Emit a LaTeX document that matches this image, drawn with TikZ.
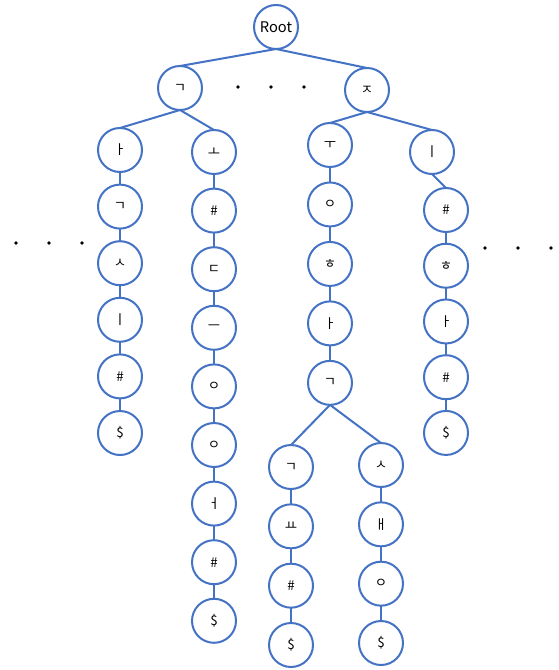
\documentclass[tikz,border=0pt]{standalone}
\usepackage{fontspec}
\setmainfont{Noto Sans CJK KR}
\usepackage{xcolor}
\usepackage{tikz}
\usetikzlibrary{positioning}

\definecolor{trieblue}{RGB}{68,114,196}

\begin{document}
\begin{tikzpicture}[
  x=0.75pt, y=-0.75pt,
  letter/.style={draw=trieblue, circle, line width=1.5pt, fill=white, minimum size=33pt, inner sep=0pt, outer sep=0pt, font=\fontsize{10}{11}\selectfont},
  dot/.style={circle, fill=black, inner sep=0pt, minimum size=2.8pt},
  edge/.style={draw=trieblue, line width=1.5pt}
]
\useasboundingbox (0,0) rectangle (559,670);

% top levels
\node[letter, font=\fontsize{11}{12}\selectfont] (root) at (276,27) {Root};
\node[letter] (g) at (180,88) {ㄱ};
\node[letter] (j) at (367,90) {ㅈ};

% column under g, left
\node[letter] (a1) at (120,150) {ㅏ};
\node[letter, below=9.45pt of a1] (a2) {ㄱ};
\node[letter, below=9.45pt of a2] (a3) {ㅅ};
\node[letter, below=9.45pt of a3] (a4) {ㅣ};
\node[letter, below=9.45pt of a4] (a5) {\#};
\node[letter, below=9.45pt of a5] (a6) {\$};

% column under g, right
\node[letter] (b1) at (214,152) {ㅗ};
\node[letter, below=10.95pt of b1] (b2) {\#};
\node[letter, below=10.95pt of b2] (b3) {ㄷ};
\node[letter, below=10.95pt of b3] (b4) {ㅡ};
\node[letter, below=10.95pt of b4] (b5) {ㅇ};
\node[letter, below=10.95pt of b5] (b6) {ㅇ};
\node[letter, below=10.95pt of b6] (b7) {ㅓ};
\node[letter, below=10.95pt of b7] (b8) {\#};
\node[letter, below=10.95pt of b8] (b9) {\$};

% column under j, left
\node[letter] (c1) at (330,145) {ㅜ};
\node[letter, below=11.6pt of c1] (c2) {ㅇ};
\node[letter, below=11.6pt of c2] (c3) {ㅎ};
\node[letter, below=11.6pt of c3] (c4) {ㅏ};
\node[letter, below=11.6pt of c4] (c5) {ㄱ};

% fork under c5
\node[letter] (e1) at (291,467) {ㄱ};
\node[letter, below=11.5pt of e1] (e2) {ㅛ};
\node[letter, below=11.5pt of e2] (e3) {\#};
\node[letter, below=11.5pt of e3] (e4) {\$};
\node[letter] (f1) at (381,465) {ㅅ};
\node[letter, below=11.5pt of f1] (f2) {ㅐ};
\node[letter, below=11.5pt of f2] (f3) {ㅇ};
\node[letter, below=11.5pt of f3] (f4) {\$};

% column under j, right
\node[letter] (d1) at (432,152) {ㅣ};
\node[letter] (d2) at (446,210) {\#};
\node[letter, below=8.8pt of d2] (d3) {ㅎ};
\node[letter, below=8.8pt of d3] (d4) {ㅏ};
\node[letter, below=8.8pt of d4] (d5) {\#};
\node[letter, below=8.8pt of d5] (d6) {\$};

% omitted branches
\node[dot] (m1) at (238,87) {};
\node[dot] (m2) at (271,87) {};
\node[dot] (m3) at (304,87) {};
\node[dot] (l1) at (16,243) {};
\node[dot] (l2) at (49,243) {};
\node[dot] (l3) at (82,243) {};
\node[dot] (r1) at (485,248) {};
\node[dot] (r2) at (518,248) {};
\node[dot] (r3) at (551,248) {};

\path[edge] (root.south) -- (g.north);
\path[edge] (root.south) -- (j.north);
\path[edge] (g.south) -- (a1.north);
\path[edge] (g.south) -- (b1.north);
\path[edge] (j.south) -- (c1.north);
\path[edge] (j.south) -- (d1.north);
\path[edge] (a1) -- (a2) -- (a3) -- (a4) -- (a5) -- (a6);
\path[edge] (b1) -- (b2) -- (b3) -- (b4) -- (b5) -- (b6) -- (b7) -- (b8) -- (b9);
\path[edge] (c1) -- (c2) -- (c3) -- (c4) -- (c5);
\path[edge] (c5.south) -- (e1.north);
\path[edge] (c5.south) -- (f1.north);
\path[edge] (e1) -- (e2) -- (e3) -- (e4);
\path[edge] (f1) -- (f2) -- (f3) -- (f4);
\path[edge] (d1.south) -- (d2.north);
\path[edge] (d2) -- (d3) -- (d4) -- (d5) -- (d6);
\end{tikzpicture}
\end{document}
